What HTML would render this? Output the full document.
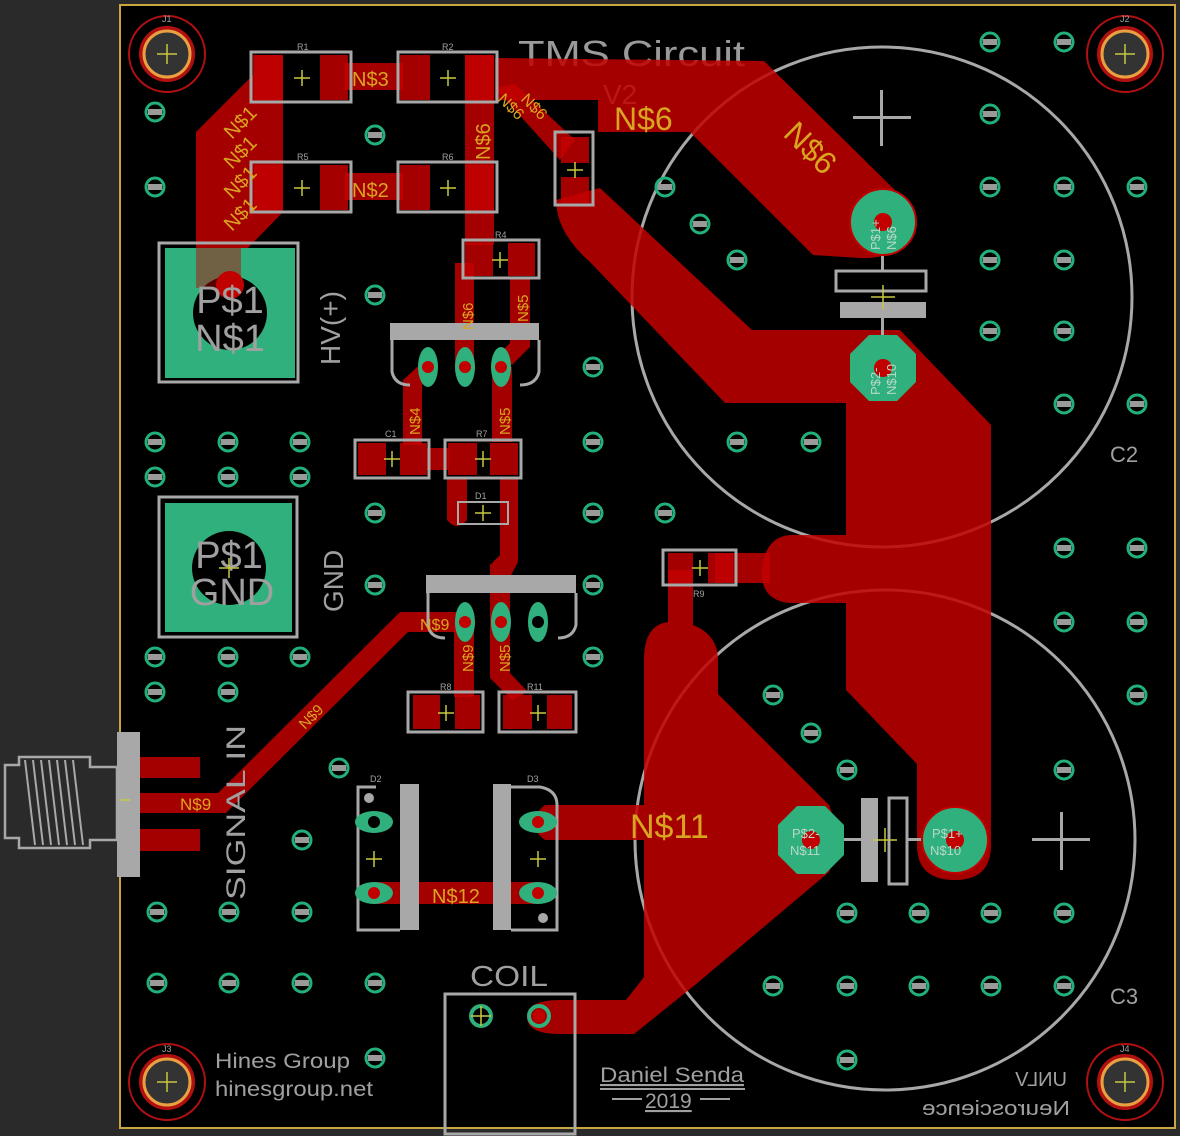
<!DOCTYPE html>
<html><head><meta charset="utf-8"><style>
html,body{margin:0;padding:0;background:#2a2a2a}
svg{display:block}
text{font-family:"Liberation Sans",sans-serif}
</style></head><body>
<svg width="1180" height="1136" viewBox="0 0 1180 1136" xmlns="http://www.w3.org/2000/svg">
<rect x="0" y="0" width="1180" height="1136" fill="#2a2a2a"/>
<rect x="120" y="5" width="1055" height="1123" fill="#000" stroke="#c9a640" stroke-width="2"/>

<circle cx="882" cy="297" r="250" fill="none" stroke="#a8a8a8" stroke-width="3"/>
<circle cx="885" cy="840" r="250" fill="none" stroke="#a8a8a8" stroke-width="3"/>

<text x="518" y="66" font-size="36" fill="#9a9a9a" textLength="227" lengthAdjust="spacingAndGlyphs">TMS Circuit</text>
<text x="603" y="104" font-size="28" fill="#9a9a9a">V2</text>

<g fill="#c20000" fill-opacity="0.85">
<path d="M196 132 L253 75 L253 55 L283 55 L283 212 L241 255 L241 280 Q218 305 196 280 Z"/>
<rect x="345" y="63" width="58" height="27"/>
<rect x="345" y="173" width="58" height="27"/>
<path d="M495 58 L764 61 L905 200 L905 240 Q890 260 860 258 L813 255 L690 132 L598 132 L598 100 L495 100 Z"/>
<path d="M495 88 L515 84 L575 140 L560 160 Z"/>
<rect x="465" y="55" width="29" height="190"/>
<path d="M556 200 L600 188 L752 330 L900 330 L991 425 L991 845 Q991 880 955 880 Q917 880 917 845 L917 764 L846 690 L846 603 L790 603 Q760 600 762 570 Q765 537 790 535 L846 535 L846 403 L725 403 L590 262 Q556 232 556 200 Z"/>
<rect x="715" y="553" width="55" height="30"/>
<path d="M668 570 L693 570 L693 625 Q718 635 718 660 L718 694 L829 805 L842 840 L829 872 L695 985 L634 1034 L560 1034 Q527 1034 527 1017 Q527 1000 560 1000 L626 1000 L644 977 L644 840 L545 840 Q522 823 545 805 L644 805 L644 660 Q644 625 668 622 Z"/>
<path d="M455 263 L474 263 L474 367 L455 367 Z"/>
<path d="M510 278 L530 278 L530 347 L512 365 L498 355 L510 343 Z"/>
<path d="M425 360 L435 372 L422 385 L422 445 L403 445 L403 380 Z"/>
<rect x="492" y="367" width="20" height="75"/>
<rect x="427" y="448" width="22" height="22"/>
<path d="M500 478 L518 478 L518 562 L510 577 L510 673 L528 692 L512 700 L490 678 L490 565 L500 555 Z"/>
<path d="M447 478 L467 478 L467 520 Q457 532 447 520 Z"/>
<rect x="454" y="622" width="20" height="75"/>
<path d="M465 612 L400 612 L218 793 L140 793 L140 813 L226 813 L408 632 L465 632 Z"/>
<rect x="374" y="882" width="164" height="22"/>
<rect x="140" y="757" width="60" height="21"/>
<rect x="140" y="829" width="60" height="22"/>
<rect x="254" y="55" width="29" height="45"/><rect x="320" y="55" width="28" height="45"/>
<rect x="400" y="55" width="30" height="45"/><rect x="465" y="55" width="29" height="45"/>
<rect x="254" y="165" width="29" height="45"/><rect x="320" y="165" width="28" height="45"/>
<rect x="400" y="165" width="30" height="45"/><rect x="465" y="165" width="29" height="45"/>
<rect x="561" y="137" width="28" height="26"/><rect x="561" y="177" width="28" height="26"/>
<rect x="465" y="243" width="28" height="33"/><rect x="508" y="243" width="27" height="33"/>
<rect x="358" y="443" width="28" height="32"/><rect x="400" y="443" width="27" height="32"/>
<rect x="448" y="443" width="29" height="32"/><rect x="490" y="443" width="28" height="32"/>
<rect x="413" y="695" width="27" height="34"/><rect x="455" y="695" width="25" height="34"/>
<rect x="503" y="695" width="29" height="34"/><rect x="547" y="695" width="25" height="34"/>
<rect x="668" y="553" width="25" height="30"/><rect x="708" y="553" width="25" height="30"/>
</g>

<g fill="none" stroke="#a8a8a8" stroke-width="3">
<rect x="251" y="52" width="100" height="50"/><rect x="398" y="52" width="99" height="50"/>
<rect x="251" y="162" width="100" height="50"/><rect x="398" y="162" width="99" height="50"/>
<rect x="555" y="132" width="38" height="73"/>
<rect x="463" y="240" width="76" height="38"/>
<rect x="355" y="440" width="74" height="38"/><rect x="445" y="440" width="76" height="38"/>
<rect x="458" y="502" width="50" height="22" stroke-width="2"/>
<rect x="408" y="692" width="75" height="40"/><rect x="499" y="692" width="77" height="40"/>
<rect x="663" y="550" width="73" height="35"/>
<path d="M392 340 L392 372 Q395 385 410 385"/><path d="M539 340 L539 372 Q536 385 520 385"/>
<path d="M428 593 L428 625 Q430 638 445 638"/><path d="M576 593 L576 625 Q573 638 558 638"/>
<path d="M376 787 L358 787 L358 930 L400 930"/>
<path d="M511 787 L540 787 Q557 790 557 805 L557 930 L511 930"/>
<rect x="445" y="994" width="130" height="140"/>
<path d="M5 765 L19 765 L19 757 L90 757 L90 767 L117 767 L117 840 L90 840 L90 848 L19 848 L19 838 L5 838 Z" stroke-width="2.5"/>
<rect x="836" y="271" width="90" height="20"/>
<rect x="889" y="798" width="18" height="86"/>
</g>
<g fill="#a8a8a8">
<rect x="390" y="323" width="149" height="17"/>
<rect x="426" y="575" width="150" height="18"/>
<rect x="400" y="784" width="19" height="146"/>
<rect x="493" y="784" width="18" height="146"/>
<rect x="117" y="732" width="23" height="145"/>
<rect x="840" y="302" width="86" height="16"/>
<rect x="861" y="798" width="17" height="84"/>
<rect x="881" y="240" width="3" height="32"/><rect x="881" y="318" width="3" height="32"/>
<rect x="832" y="838" width="29" height="3"/><rect x="907" y="838" width="20" height="3"/>
<circle cx="369" cy="798" r="5"/><circle cx="543" cy="918" r="5"/>
<rect x="880" y="90" width="3" height="56"/><rect x="853" y="116" width="58" height="3"/>
<rect x="1060" y="812" width="3" height="58"/><rect x="1032" y="838" width="58" height="3"/>
</g>
<g stroke="#a8a8a8" stroke-width="2">
<line x1="25" y1="760" x2="35" y2="845"/><line x1="33" y1="760" x2="43" y2="845"/><line x1="41" y1="760" x2="51" y2="845"/><line x1="49" y1="760" x2="59" y2="845"/><line x1="57" y1="760" x2="67" y2="845"/><line x1="65" y1="760" x2="75" y2="845"/><line x1="73" y1="760" x2="83" y2="845"/>
</g>

<rect x="159" y="243" width="139" height="139" fill="none" stroke="#a8a8a8" stroke-width="3"/>
<rect x="165" y="248" width="130" height="130" fill="#2fb07c"/>
<circle cx="230" cy="313" r="37" fill="#000"/>
<circle cx="230" cy="285" r="14" fill="#c20000"/>
<rect x="196" y="248" width="45" height="40" fill="#c20000" fill-opacity="0.45"/>
<text x="230" y="313" font-size="38" fill="#a0a0a0" text-anchor="middle">P$1</text>
<text x="230" y="351" font-size="38" fill="#a0a0a0" text-anchor="middle">N$1</text>
<rect x="159" y="497" width="138" height="140" fill="none" stroke="#a8a8a8" stroke-width="3"/>
<rect x="165" y="503" width="127" height="129" fill="#2fb07c"/>
<circle cx="229" cy="568" r="37" fill="#000"/>
<text x="229" y="568" font-size="38" fill="#a0a0a0" text-anchor="middle">P$1</text>
<text x="232" y="605" font-size="38" fill="#a0a0a0" text-anchor="middle">GND</text>

<g fill="#2fb07c">
<ellipse cx="428" cy="367" rx="10" ry="20"/><ellipse cx="465" cy="367" rx="10" ry="20"/><ellipse cx="501" cy="367" rx="10" ry="20"/>
<ellipse cx="465" cy="622" rx="10" ry="20"/><ellipse cx="501" cy="622" rx="10" ry="20"/><ellipse cx="538" cy="622" rx="10" ry="20"/>
<ellipse cx="374" cy="822" rx="19" ry="11"/><ellipse cx="374" cy="893" rx="19" ry="11"/>
<ellipse cx="538" cy="822" rx="19" ry="11"/><ellipse cx="538" cy="893" rx="19" ry="11"/>
</g>
<g fill="#c20000">
<circle cx="428" cy="367" r="6"/><circle cx="465" cy="367" r="6"/><circle cx="501" cy="367" r="6"/>
<circle cx="465" cy="622" r="6"/><circle cx="501" cy="622" r="6"/>
<circle cx="374" cy="893" r="6"/><circle cx="538" cy="822" r="6"/><circle cx="538" cy="893" r="6"/>
<circle cx="539" cy="1016" r="6"/>
</g>
<circle cx="538" cy="622" r="6" fill="#000"/><circle cx="374" cy="822" r="6" fill="#000"/>
<circle cx="481" cy="1016" r="10" fill="none" stroke="#2fb07c" stroke-width="4"/>
<circle cx="539" cy="1016" r="10" fill="none" stroke="#2fb07c" stroke-width="4"/>

<circle cx="883" cy="222" r="33" fill="#2fb07c" stroke="#c20000" stroke-width="2"/>
<polygon points="869,335 897,335 916,354 916,382 897,401 869,401 850,382 850,354" fill="#2fb07c"/>
<polygon points="797,806 825,806 844,825 844,855 825,874 797,874 778,855 778,825" fill="#2fb07c"/>
<circle cx="955" cy="840" r="33" fill="#2fb07c" stroke="#c20000" stroke-width="2"/>
<g fill="#c20000"><circle cx="883" cy="222" r="9"/><circle cx="883" cy="368" r="9"/><circle cx="811" cy="840" r="9"/><circle cx="955" cy="840" r="9"/></g>
<g font-size="13" fill="#b8d8c8">
<text transform="translate(880,250) rotate(-90)">P$1+</text><text transform="translate(896,250) rotate(-90)">N$6</text>
<text transform="translate(880,395) rotate(-90)">P$2-</text><text transform="translate(896,395) rotate(-90)">N$10</text>
<text x="792" y="838">P$2-</text><text x="790" y="855">N$11</text>
<text x="932" y="838">P$1+</text><text x="930" y="855">N$10</text>
</g>

<g>
<circle cx="167" cy="54" r="38" fill="none" stroke="#b01010" stroke-width="2"/><circle cx="167" cy="54" r="26" fill="none" stroke="#b01010" stroke-width="4"/><circle cx="167" cy="54" r="23" fill="#333" stroke="#e8a040" stroke-width="3"/>
<circle cx="1125" cy="54" r="38" fill="none" stroke="#b01010" stroke-width="2"/><circle cx="1125" cy="54" r="26" fill="none" stroke="#b01010" stroke-width="4"/><circle cx="1125" cy="54" r="23" fill="#333" stroke="#e8a040" stroke-width="3"/>
<circle cx="167" cy="1082" r="38" fill="none" stroke="#b01010" stroke-width="2"/><circle cx="167" cy="1082" r="26" fill="none" stroke="#b01010" stroke-width="4"/><circle cx="167" cy="1082" r="23" fill="#333" stroke="#e8a040" stroke-width="3"/>
<circle cx="1125" cy="1082" r="38" fill="none" stroke="#b01010" stroke-width="2"/><circle cx="1125" cy="1082" r="26" fill="none" stroke="#b01010" stroke-width="4"/><circle cx="1125" cy="1082" r="23" fill="#333" stroke="#e8a040" stroke-width="3"/>
</g>

<defs>
<g id="v"><circle r="9" fill="none" stroke="#22b07a" stroke-width="3"/><rect x="-7" y="-3" width="14" height="6" fill="#9a9a9a"/></g>
</defs>
<g>
<use href="#v" x="155" y="112"/><use href="#v" x="155" y="187"/><use href="#v" x="375" y="135"/><use href="#v" x="375" y="295"/>
<use href="#v" x="990" y="42"/><use href="#v" x="1064" y="42"/><use href="#v" x="990" y="114"/>
<use href="#v" x="990" y="187"/><use href="#v" x="1064" y="187"/><use href="#v" x="1137" y="187"/>
<use href="#v" x="665" y="187"/><use href="#v" x="700" y="224"/><use href="#v" x="737" y="260"/>
<use href="#v" x="990" y="260"/><use href="#v" x="1064" y="260"/><use href="#v" x="990" y="331"/><use href="#v" x="1064" y="331"/>
<use href="#v" x="593" y="367"/><use href="#v" x="1064" y="404"/><use href="#v" x="1137" y="404"/>
<use href="#v" x="155" y="442"/><use href="#v" x="228" y="442"/><use href="#v" x="300" y="442"/>
<use href="#v" x="593" y="442"/><use href="#v" x="737" y="442"/><use href="#v" x="811" y="442"/>
<use href="#v" x="155" y="477"/><use href="#v" x="228" y="477"/><use href="#v" x="300" y="477"/>
<use href="#v" x="375" y="513"/><use href="#v" x="593" y="513"/><use href="#v" x="665" y="513"/>
<use href="#v" x="1064" y="548"/><use href="#v" x="1137" y="548"/>
<use href="#v" x="375" y="585"/><use href="#v" x="593" y="585"/>
<use href="#v" x="1064" y="622"/><use href="#v" x="1137" y="622"/>
<use href="#v" x="155" y="657"/><use href="#v" x="228" y="657"/><use href="#v" x="300" y="657"/><use href="#v" x="593" y="657"/>
<use href="#v" x="155" y="692"/><use href="#v" x="228" y="692"/><use href="#v" x="773" y="695"/><use href="#v" x="1137" y="695"/>
<use href="#v" x="811" y="733"/><use href="#v" x="847" y="770"/><use href="#v" x="1064" y="770"/>
<use href="#v" x="339" y="768"/><use href="#v" x="302" y="840"/>
<use href="#v" x="157" y="912"/><use href="#v" x="229" y="912"/><use href="#v" x="302" y="912"/>
<use href="#v" x="157" y="983"/><use href="#v" x="229" y="983"/><use href="#v" x="302" y="983"/><use href="#v" x="375" y="983"/>
<use href="#v" x="375" y="1058"/>
<use href="#v" x="847" y="913"/><use href="#v" x="919" y="913"/><use href="#v" x="991" y="913"/><use href="#v" x="1064" y="913"/>
<use href="#v" x="773" y="986"/><use href="#v" x="847" y="986"/><use href="#v" x="919" y="986"/><use href="#v" x="991" y="986"/><use href="#v" x="1064" y="986"/>
<use href="#v" x="847" y="1060"/>
</g>

<g stroke="#c8c840" stroke-width="1.5">
<path d="M302 70v16M294 78h16 M448 70v16M440 78h16 M302 180v16M294 188h16 M448 180v16M440 188h16 M575 162v16M567 170h16 M500 252v16M492 260h16 M392 451v16M384 459h16 M483 451v16M475 459h16 M483 505v16M475 513h16 M446 705v16M438 713h16 M538 705v16M530 713h16 M700 560v16M692 568h16 M374 851v16M366 859h16 M538 851v16M530 859h16 M167 44v20M157 54h20 M1125 44v20M1115 54h20 M167 1072v20M157 1082h20 M1125 1072v20M1115 1082h20 M883 285v24M871 297h24 M885 828v24M873 840h24 M481 1006v20M471 1016h20 M229 558v20M219 568h20 M120 800h10"/>
</g>

<g fill="#d9a520" font-size="20">
<text x="352" y="86">N$3</text><text x="352" y="197">N$2</text>
<text transform="translate(232,140) rotate(-45)">N$1</text>
<text transform="translate(232,170) rotate(-45)">N$1</text>
<text transform="translate(232,200) rotate(-45)">N$1</text>
<text transform="translate(232,232) rotate(-45)">N$1</text>
<text transform="translate(490,160) rotate(-90)">N$6</text>
<text transform="translate(497,100) rotate(45)" font-size="16">N$6</text>
<text transform="translate(520,100) rotate(45)" font-size="16">N$6</text>
<text x="614" y="130" font-size="32">N$6</text>
<text transform="translate(782,135) rotate(45)" font-size="32">N$6</text>
<text transform="translate(473,330) rotate(-90)" font-size="15">N$6</text>
<text transform="translate(528,322) rotate(-90)" font-size="15">N$5</text>
<text transform="translate(420,435) rotate(-90)" font-size="15">N$4</text>
<text transform="translate(510,435) rotate(-90)" font-size="15">N$5</text>
<text x="420" y="630" font-size="16">N$9</text>
<text transform="translate(473,672) rotate(-90)" font-size="15">N$9</text>
<text transform="translate(510,672) rotate(-90)" font-size="15">N$5</text>
<text transform="translate(305,730) rotate(-45)" font-size="15">N$9</text>
<text x="180" y="810" font-size="17">N$9</text>
<text x="432" y="903" font-size="20">N$12</text>
<text x="630" y="838" font-size="34">N$11</text>
</g>

<g fill="#a0a0a0">
<text transform="translate(340,365) rotate(-90)" font-size="28">HV(+)</text>
<text transform="translate(343,612) rotate(-90)" font-size="28">GND</text>
<text transform="translate(245,900) rotate(-90)" font-size="27" textLength="175" lengthAdjust="spacingAndGlyphs">SIGNAL  IN</text>
<text x="470" y="986" font-size="29" textLength="78" lengthAdjust="spacingAndGlyphs">COIL</text>
<text x="215" y="1068" font-size="21" textLength="135" lengthAdjust="spacingAndGlyphs">Hines Group</text>
<text x="215" y="1096" font-size="21" textLength="158" lengthAdjust="spacingAndGlyphs">hinesgroup.net</text>
<text x="600" y="1082" font-size="21" text-decoration="underline" textLength="144" lengthAdjust="spacingAndGlyphs">Daniel Senda</text>
<text x="645" y="1108" font-size="21" text-decoration="underline">2019</text>
<text x="1110" y="462" font-size="22">C2</text>
<text x="1110" y="1004" font-size="22">C3</text>
<text transform="translate(1067,1086) scale(-1,1)" font-size="20">UNLV</text>
<text transform="translate(1070,1115) scale(-1,1)" font-size="20" textLength="148" lengthAdjust="spacingAndGlyphs">Neuroscience</text>
<g font-size="9">
<text x="297" y="50">R1</text><text x="442" y="50">R2</text><text x="297" y="160">R5</text><text x="442" y="160">R6</text>
<text x="495" y="238">R4</text><text x="385" y="437">C1</text><text x="476" y="437">R7</text><text x="475" y="499">D1</text>
<text x="440" y="690">R8</text><text x="527" y="690">R11</text><text x="693" y="597">R9</text>
<text x="370" y="782">D2</text><text x="527" y="782">D3</text>
<text x="162" y="22">J1</text><text x="1120" y="22">J2</text><text x="162" y="1052">J3</text><text x="1120" y="1052">J4</text>
</g>
<rect x="600" y="1088" width="145" height="2"/><rect x="612" y="1098" width="30" height="2"/><rect x="700" y="1098" width="30" height="2"/>
</g>
</svg>
</body></html>
